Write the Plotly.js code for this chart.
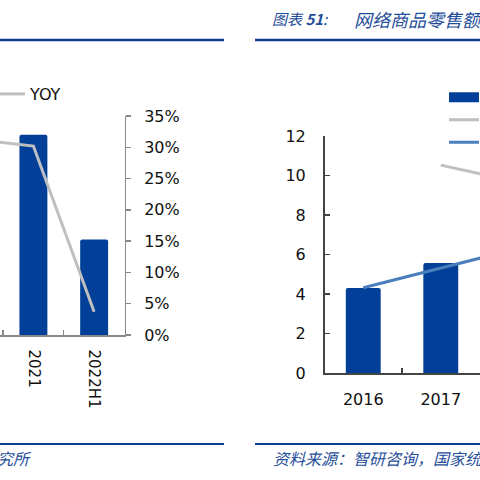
<!DOCTYPE html>
<html>
<head>
<meta charset="utf-8">
<script src="https://cdn.plot.ly/plotly-3.0.1.min.js"></script>
<style>html,body{margin:0;padding:0;background:#fff;}#chart{width:480px;height:480px;}</style>
</head>
<body>
<div id="chart"></div>
<script>
// ---- Left chart data ----
const leftBarCats = ['2021', '2022H1'];
const leftBarValues = [12.8, 6.1];
const leftYoyCats = ['2020', '2021', '2022H1'];
const leftYoyValues = [0.313, 0.302, 0.037];
const leftCatOrder = ['2020', '2021', '2022H1'];

// ---- Right chart data ----
const rightCatOrder = ['2016', '2017', '2018'];
const rightBarCats = ['2016', '2017'];
const rightBarValues = [4.3, 5.57];
const rightYoyCats = ['2017', '2018'];
const rightYoyValues = [0.307, 0.282];
const rightShareCats = ['2016', '2017', '2018'];
const rightShareValues = [0.126, 0.155, 0.184];

const W = 480, H = 480;
const px = v => v / W;
const py = v => 1 - v / H;

const barColor = '#023F98';
const greyLine = '#BFBFBF';
const blueLine = '#4A7EBD';
const navy = '#0E3F8F';
const txtBlue = '#1F4E9A';
const tickFont = {family: 'DejaVu Sans', size: 16, color: '#111'};

const traces = [
  {type: 'bar', x: leftBarCats, y: leftBarValues, xaxis: 'x', yaxis: 'y',
   marker: {color: barColor, cornerradius: 2}, width: 0.46, showlegend: false,
   name: '规模'},
  {type: 'scatter', mode: 'lines', x: leftYoyCats, y: leftYoyValues, xaxis: 'x', yaxis: 'y2',
   line: {color: greyLine, width: 3}, name: 'YOY', legend: 'legend2'},
  {type: 'bar', x: rightBarCats, y: rightBarValues, xaxis: 'x3', yaxis: 'y3',
   marker: {color: barColor, cornerradius: 2}, width: 0.45, showlegend: false,
   name: '网络商品零售额（万亿元）', legendgroup: 'rb'},
  {type: 'scatter', mode: 'lines', x: [null], y: [null], xaxis: 'x3', yaxis: 'y3',
   line: {color: barColor, width: 14}, name: '网络商品零售额（万亿元）', legendgroup: 'rb', legend: 'legend'},
  {type: 'scatter', mode: 'lines', x: rightYoyCats, y: rightYoyValues, xaxis: 'x3', yaxis: 'y4',
   line: {color: greyLine, width: 3}, name: 'YOY', legend: 'legend'},
  {type: 'scatter', mode: 'lines', x: rightShareCats, y: rightShareValues, xaxis: 'x3', yaxis: 'y4',
   line: {color: blueLine, width: 3}, name: '占社零比重', legend: 'legend'}
];

const layout = {
  width: W, height: H,
  margin: {l: 0, r: 0, t: 0, b: 0, autoexpand: false},
  paper_bgcolor: '#fff', plot_bgcolor: 'rgba(0,0,0,0)',
  font: {family: 'DejaVu Sans', color: '#111'},
  bargap: 0.5,
  xaxis: {
    domain: [0, px(124.5)], range: [0.45, 2.5], type: 'category',
    categoryorder: 'array', categoryarray: leftCatOrder,
    tickson: 'boundaries', ticks: 'inside', ticklen: 5, tickcolor: '#888', tickwidth: 1.3,
    showline: true, linecolor: '#888', linewidth: 1.5, showgrid: false, zeroline: false,
    tickangle: 90, tickfont: {family: 'DejaVu Sans', size: 15, color: '#111'},
    ticklabelstandoff: 10, anchor: 'y', fixedrange: true
  },
  yaxis: {
    domain: [py(335), py(116)], range: [0, 14], visible: false, anchor: 'x', fixedrange: true
  },
  yaxis2: {
    domain: [py(335), py(116)], range: [0, 0.35], dtick: 0.05, tickformat: '.0%',
    overlaying: 'y', side: 'right', anchor: 'x',
    ticks: 'outside', ticklen: 5, tickcolor: '#888', tickwidth: 1.3,
    showline: true, linecolor: '#888', linewidth: 1.5, showgrid: false, zeroline: false,
    tickfont: tickFont, ticklabelstandoff: 10, fixedrange: true
  },
  xaxis3: {
    domain: [px(324.5), 1], range: [-0.5, 1.506], type: 'category',
    categoryorder: 'array', categoryarray: rightCatOrder,
    tickson: 'boundaries', ticks: 'inside', ticklen: 5, tickcolor: '#444', tickwidth: 1.3,
    showline: true, linecolor: '#444', linewidth: 1.5, showgrid: false, zeroline: false,
    tickfont: tickFont, ticklabelstandoff: 11, anchor: 'y3', fixedrange: true
  },
  yaxis3: {
    domain: [py(373), py(136)], range: [0, 12], dtick: 2,
    ticks: 'inside', ticklen: 5, tickcolor: '#444', tickwidth: 1.3,
    showline: true, linecolor: '#444', linewidth: 1.5, showgrid: false, zeroline: false,
    tickfont: tickFont, ticklabelstandoff: 14, anchor: 'x3', fixedrange: true
  },
  yaxis4: {
    domain: [py(373), py(136)], range: [0, 0.35], overlaying: 'y3', side: 'right',
    anchor: 'x3', visible: false, fixedrange: true
  },
  legend: {
    x: px(444), xanchor: 'left', y: py(81), yanchor: 'top',
    orientation: 'v', bgcolor: 'rgba(0,0,0,0)', borderwidth: 0,
    font: {family: 'Noto Sans CJK SC', size: 15, color: '#111'}, tracegroupgap: 0
  },
  legend2: {
    x: px(-10), xanchor: 'left', y: py(77), yanchor: 'top',
    orientation: 'v', bgcolor: 'rgba(0,0,0,0)', borderwidth: 0,
    font: {family: 'DejaVu Sans', size: 16, color: '#111'}
  },
  shapes: [
    {type: 'line', xref: 'paper', yref: 'paper', x0: 0, x1: px(224), y0: py(40), y1: py(40), line: {color: navy, width: 2.6}},
    {type: 'line', xref: 'paper', yref: 'paper', x0: px(255), x1: 1, y0: py(40), y1: py(40), line: {color: navy, width: 2.6}},
    {type: 'line', xref: 'paper', yref: 'paper', x0: 0, x1: px(224), y0: py(444), y1: py(444), line: {color: navy, width: 2.2}},
    {type: 'line', xref: 'paper', yref: 'paper', x0: px(255), x1: 1, y0: py(444), y1: py(444), line: {color: navy, width: 2.2}}
  ],
  annotations: [
    {xref: 'paper', yref: 'paper', x: px(270), y: py(19), xanchor: 'left', yanchor: 'middle', showarrow: false,
     text: '图表 <b>51</b>:', font: {family: 'Noto Sans CJK SC', size: 15, color: txtBlue, style: 'italic'}},
    {xref: 'paper', yref: 'paper', x: px(352), y: py(19), xanchor: 'left', yanchor: 'middle', showarrow: false,
     text: '网络商品零售额及增速', font: {family: 'Noto Sans CJK SC', size: 18, color: txtBlue, style: 'italic'}},
    {xref: 'paper', yref: 'paper', x: px(271), y: py(458), xanchor: 'left', yanchor: 'middle', showarrow: false,
     text: '资料来源：智研咨询，国家统计局，国盛证券研究所', font: {family: 'Noto Sans CJK SC', size: 16, color: txtBlue, style: 'italic'}},
    {xref: 'paper', yref: 'paper', x: px(34), y: py(458), xanchor: 'right', yanchor: 'middle', showarrow: false,
     text: '资料来源：国家统计局，国盛证券研究所', font: {family: 'Noto Sans CJK SC', size: 16, color: txtBlue, style: 'italic'}}
  ]
};

Plotly.newPlot('chart', traces, layout, {staticPlot: true, displayModeBar: false});
</script>
</body>
</html>
